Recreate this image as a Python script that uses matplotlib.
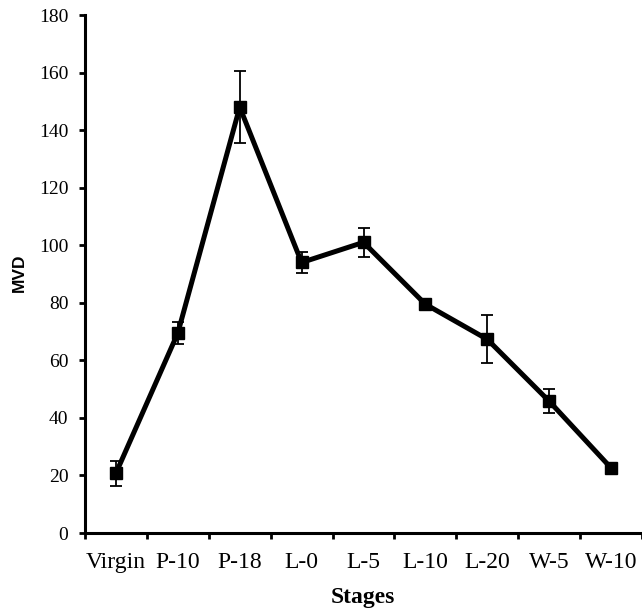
import matplotlib
matplotlib.use("Agg")
import matplotlib.pyplot as plt
import numpy as np

stages = ["Virgin", "P-10", "P-18", "L-0", "L-5", "L-10", "L-20", "W-5", "W-10"]
mvd = [20.8, 69.5, 148.0, 94.0, 101.0, 79.5, 67.3, 45.8, 22.6]
err = [4.3, 3.8, 12.5, 3.7, 5.0, 1.0, 8.4, 4.2, 0.8]

W, H = 642, 613
fig = plt.figure(figsize=(W/100, H/100), dpi=100)
ax = fig.add_axes([85/W, 80/H, 557/W, 518/H])

x = np.arange(len(stages))
ax.errorbar(x, mvd, yerr=err, fmt='none', ecolor='black', elinewidth=1.3,
            capsize=4, capthick=1.3, zorder=2)
ax.plot(x, mvd, color='black', lw=3.6, marker='s', markersize=8, zorder=3)

ax.set_xlim(-0.5, len(stages) - 0.5)
ax.set_ylim(0, 180)
ax.set_yticks(np.arange(0, 181, 20))
ax.set_xticks(x)
ax.set_xticklabels(stages, fontfamily='Liberation Serif', fontsize=17)
ax.set_xticks(np.arange(-0.5, len(stages), 1.0), minor=True)
ax.tick_params(axis='x', which='major', length=0, pad=14)
ax.tick_params(axis='x', which='minor', length=4, width=2, direction='out')
ax.tick_params(axis='y', length=4, width=2, direction='out', pad=8)
for lab in ax.get_yticklabels():
    lab.set_fontfamily('Liberation Serif')
    lab.set_fontsize(14)

for s in ['top', 'right']:
    ax.spines[s].set_visible(False)
for s in ['left', 'bottom']:
    ax.spines[s].set_linewidth(2.2)

fig.text(363/W, 1 - 598/H, "Stages", fontfamily='Liberation Serif', fontweight='bold',
         fontsize=17, ha='center', va='center')
fig.text(19/W, 1 - 273/H, "MVD", fontfamily='Liberation Sans', fontweight='bold',
         fontsize=12.5, ha='center', va='center', rotation=90)

fig.savefig("out.png", dpi=100)
